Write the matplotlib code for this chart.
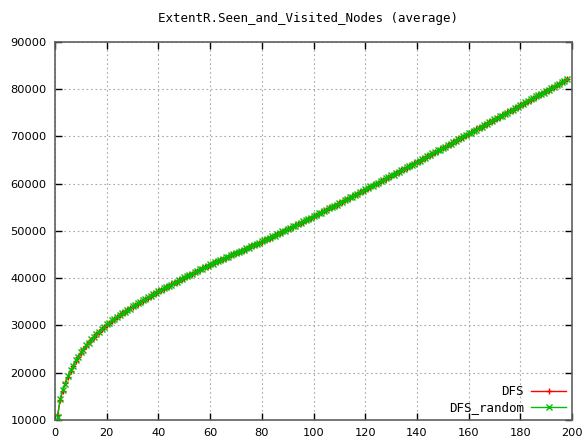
import numpy as np
import matplotlib
matplotlib.use('Agg')
import matplotlib.pyplot as plt

# x positions (run index) and averaged node counts
runs = np.arange(1, 199)

dfs = [
    11000, 14200, 16200, 17800, 19200, 20400, 21500, 22500, 23400, 24200,
    25000, 25700, 26400, 27000, 27600, 28200, 28700, 29200, 29700, 30200,
    30620, 31030, 31430, 31820, 32200, 32570, 32930, 33280, 33620, 33950,
    34290, 34620, 34950, 35280, 35600, 35920, 36240, 36560, 36880, 37200,
    37500, 37800, 38100, 38390, 38680, 38970, 39260, 39550, 39840, 40130,
    40410, 40690, 40970, 41250, 41530, 41800, 42070, 42340, 42610, 42880,
    43130, 43380, 43630, 43870, 44110, 44350, 44590, 44830, 45070, 45310,
    45550, 45790, 46030, 46270, 46510, 46760, 47010, 47260, 47510, 47770,
    48030, 48290, 48550, 48810, 49070, 49330, 49590, 49850, 50110, 50380,
    50650, 50920, 51190, 51460, 51730, 52000, 52270, 52540, 52810, 53080,
    53360, 53640, 53920, 54200, 54480, 54760, 55040, 55320, 55600, 55880,
    56170, 56460, 56750, 57040, 57330, 57620, 57910, 58200, 58490, 58780,
    59070, 59360, 59650, 59940, 60230, 60520, 60810, 61100, 61390, 61680,
    61970, 62260, 62550, 62840, 63130, 63420, 63710, 64000, 64290, 64580,
    64880, 65180, 65480, 65780, 66080, 66380, 66680, 66980, 67280, 67580,
    67880, 68180, 68480, 68780, 69080, 69380, 69680, 69980, 70280, 70580,
    70880, 71180, 71480, 71780, 72080, 72380, 72680, 72980, 73280, 73580,
    73880, 74180, 74480, 74780, 75080, 75380, 75680, 75980, 76280, 76580,
    76890, 77190, 77500, 77800, 78110, 78410, 78720, 79020, 79330, 79630,
    79940, 80240, 80550, 80850, 81160, 81460, 81770, 82070,
]

dfs_random = [
    10700, 14500, 16400, 17700, 19300, 20500, 21400, 22600, 23300, 24300,
    24900, 25800, 26300, 27100, 27500, 28300, 28600, 29300, 29600, 30300,
    30550, 31100, 31380, 31900, 32150, 32650, 32880, 33350, 33580, 34020,
    34240, 34700, 34900, 35350, 35560, 35990, 36200, 36630, 36840, 37270,
    37450, 37870, 38060, 38460, 38640, 39040, 39220, 39620, 39800, 40200,
    40370, 40760, 40930, 41320, 41490, 41870, 42030, 42410, 42570, 42950,
    43090, 43450, 43590, 43940, 44070, 44420, 44550, 44900, 45030, 45380,
    45510, 45860, 45990, 46340, 46470, 46830, 46970, 47330, 47470, 47840,
    47990, 48360, 48510, 48880, 49030, 49400, 49550, 49920, 50070, 50450,
    50610, 50990, 51150, 51530, 51690, 52070, 52230, 52610, 52770, 53150,
    53320, 53710, 53880, 54270, 54440, 54830, 55000, 55390, 55560, 55950,
    56130, 56530, 56710, 57110, 57290, 57690, 57870, 58270, 58450, 58850,
    59030, 59430, 59610, 60010, 60190, 60590, 60770, 61170, 61350, 61750,
    61930, 62330, 62510, 62910, 63090, 63490, 63670, 64070, 64250, 64650,
    64840, 65250, 65440, 65850, 66040, 66450, 66640, 67050, 67240, 67650,
    67840, 68250, 68440, 68850, 69040, 69450, 69640, 70050, 70240, 70650,
    70840, 71250, 71440, 71850, 72040, 72450, 72640, 73050, 73240, 73650,
    73840, 74250, 74440, 74850, 75040, 75450, 75640, 76050, 76240, 76650,
    76850, 77260, 77460, 77870, 78070, 78480, 78680, 79090, 79290, 79700,
    79900, 80310, 80510, 80920, 81120, 81530, 81730, 82140,
]

xticks = list(range(0, 201, 20))
yticks = list(range(10000, 90001, 10000))

fig = plt.figure(figsize=(5.87, 4.42), dpi=100)
ax = fig.add_axes([0.0937, 0.0498, 0.8808, 0.8552])

# gnuplot-like look
ax.plot(runs, dfs, color='#ff0000', marker='+', markersize=5, lw=1,
        label='DFS', zorder=3)
ax.plot(runs, dfs_random, color='#00c000', marker='x', markersize=4, lw=1,
        label='DFS_random', zorder=4)

ax.set_xlim(0, 200)
ax.set_ylim(10000, 90000)
ax.set_xticks(xticks)
ax.set_yticks(yticks)
ax.tick_params(direction='in', length=5, width=1, top=True, right=True,
               labelsize=8.2, color='black', pad=6)
for lab in ax.get_xticklabels() + ax.get_yticklabels():
    lab.set_family('DejaVu Sans')

ax.grid(True, color='#a8a8a8', linestyle=(0, (1.5, 2.5)), linewidth=0.8)
for s in ax.spines.values():
    s.set_color('#606060')
    s.set_linewidth(1.2)

fig.text(0.525, 0.958, 'ExtentR.Seen_and_Visited_Nodes (average)',
         ha='center', va='center', family='DejaVu Sans Mono', fontsize=9)

leg = ax.legend(loc='lower right', frameon=False, markerfirst=False,
                prop={'family': 'DejaVu Sans Mono', 'size': 9},
                handlelength=2.8, handletextpad=0.6, labelspacing=0.25,
                borderaxespad=0.05)

fig.savefig('out.png', dpi=100)
